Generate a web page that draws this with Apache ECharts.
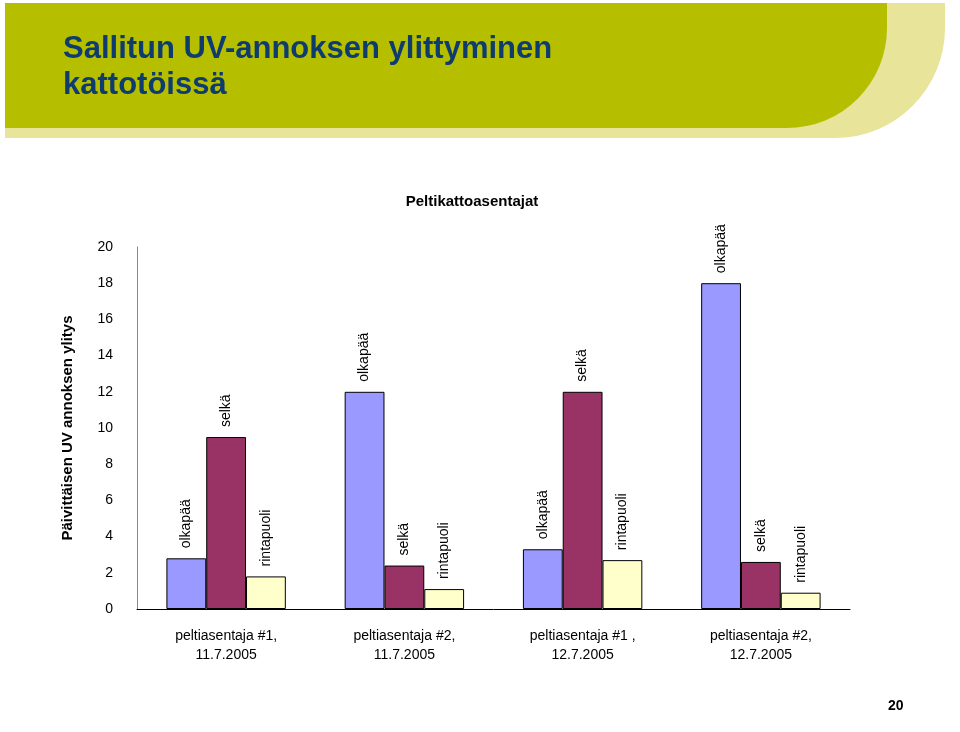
<!DOCTYPE html>
<html><head><meta charset="utf-8">
<script src="https://cdn.jsdelivr.net/npm/echarts@6/dist/echarts.min.js"></script>
<style>html,body{margin:0;padding:0;background:#fff}#c{width:960px;height:732px}</style>
</head><body><div id="c"></div>
<script>
const categories = ['peltiasentaja #1,\n11.7.2005','peltiasentaja #2,\n11.7.2005','peltiasentaja #1 ,\n12.7.2005','peltiasentaja #2,\n12.7.2005'];
const olkapaa = [2.8, 12, 3.3, 18];
const selka = [9.5, 2.4, 12, 2.6];
const rintapuoli = [1.8, 1.1, 2.7, 0.9];
const seriesNames = ['olkapää','selkä','rintapuoli'];
const colors = ['#9999FF','#993366','#FFFFCC'];
const chart = echarts.init(document.getElementById('c'));
const mk = (name, data, color) => ({
  name, type:'bar', data, barGap:'0%', barCategoryGap:'33%',
  itemStyle:{color, borderColor:'#000', borderWidth:1},
  label:{show:true, position:'top', rotate:90, align:'left', verticalAlign:'middle', distance:10, formatter:name, color:'#000', fontSize:14, fontFamily:'Liberation Sans, Arial'}
});
chart.setOption({
  animation:false,
  title:{text:'Peltikattoasentajat', left:467, top:189, textAlign:'center', textStyle:{fontSize:15, fontWeight:'bold', color:'#000', fontFamily:'Liberation Sans, Arial'}},
  grid:{left:137, right:110, top:247, bottom:123},
  xAxis:{type:'category', data:categories, axisTick:{show:false}, axisLine:{lineStyle:{color:'#000'}},
    axisLabel:{color:'#000', fontSize:14, margin:18, lineHeight:19, fontFamily:'Liberation Sans, Arial'}},
  yAxis:{type:'value', min:0, max:20, interval:2, splitLine:{show:false},
    axisLine:{show:true, lineStyle:{color:'#888'}}, axisTick:{show:false},
    axisLabel:{color:'#000', fontSize:14, margin:24, fontFamily:'Liberation Sans, Arial'},
    name:'Päivittäisen UV annoksen ylitys', nameLocation:'middle', nameGap:62, nameRotate:90,
    nameTextStyle:{fontSize:15, fontWeight:'bold', color:'#000', fontFamily:'Liberation Sans, Arial'}},
  series:[mk(seriesNames[0], olkapaa, colors[0]), mk(seriesNames[1], selka, colors[1]), mk(seriesNames[2], rintapuoli, colors[2])],
  graphic:[
    {type:'rect', shape:{x:5, y:3, width:940, height:135, r:[0,0,110,0]}, style:{fill:'#E8E49A'}, z:-2},
    {type:'rect', shape:{x:5, y:3, width:882, height:125, r:[0,0,100,0]}, style:{fill:'#B5BF00'}, z:-1},
    {type:'text', left:63, top:31, style:{text:'Sallitun UV-annoksen ylittyminen\nkattotöissä', fill:'#0F3C6E', font:'bold 31px "Liberation Sans Narrow", "Liberation Sans", Arial', lineHeight:36, letterSpacing:3}},
    {type:'text', left:888, top:699, style:{text:'20', fill:'#000', font:'bold 14px "Liberation Sans", Arial', letterSpacing:2}}
  ]
});
</script></body></html>
